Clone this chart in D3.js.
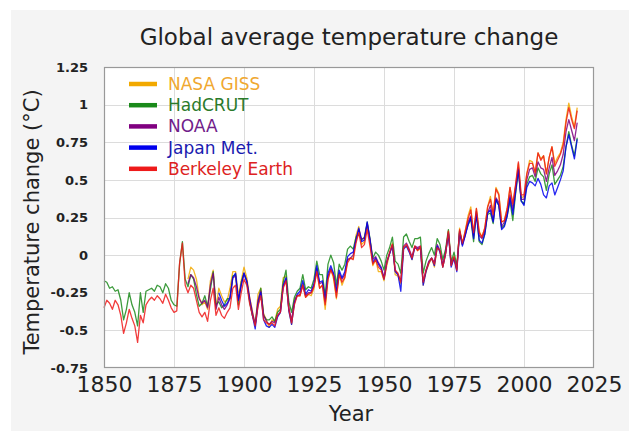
<!DOCTYPE html>
<html>
<head>
<meta charset="utf-8">
<script src="https://cdn.jsdelivr.net/npm/d3@7"></script>
<style>
  html, body { margin: 0; padding: 0; background: #ffffff; }
  svg { display: block; }
  text { font-family: "DejaVu Sans", sans-serif; }
</style>
</head>
<body>
<svg id="chart" width="629" height="431"></svg>
<script>
// Annual temperature anomalies (°C, relative to 1951–1980)
const seriesNames = ["NASA GISS", "HadCRUT", "NOAA", "Japan Met.", "Berkeley Earth"];
const seriesColors = ["#f2a900", "#1a8a1a", "#800080", "#0000ee", "#ee1a1a"];
const labelColors = ["#f0a830", "#2a7a2a", "#70208a", "#1a1ab0", "#dd2222"];
const startYears = [1880, 1850, 1880, 1891, 1850];

const nasaGiss = [
  -0.16,-0.08,-0.10,-0.16,-0.28,-0.33,-0.31,-0.36,-0.17,-0.10,
  -0.35,-0.22,-0.27,-0.31,-0.30,-0.22,-0.11,-0.11,-0.27,-0.17,
  -0.08,-0.15,-0.28,-0.37,-0.47,-0.26,-0.22,-0.39,-0.43,-0.48,
  -0.43,-0.44,-0.36,-0.34,-0.15,-0.14,-0.36,-0.46,-0.29,-0.27,
  -0.27,-0.19,-0.28,-0.26,-0.27,-0.22,-0.10,-0.22,-0.20,-0.36,
  -0.16,-0.09,-0.16,-0.29,-0.12,-0.20,-0.15,-0.03,-0.02,-0.02,
   0.13, 0.19, 0.07, 0.09, 0.20, 0.09,-0.07,-0.03,-0.11,-0.11,
  -0.17,-0.07, 0.01, 0.08,-0.13,-0.14,-0.19, 0.05, 0.06, 0.03,
  -0.03, 0.06, 0.03, 0.05,-0.20,-0.11,-0.06,-0.02,-0.08, 0.05,
   0.03,-0.08, 0.01, 0.16,-0.07,-0.01,-0.10, 0.18, 0.07, 0.16,
   0.26, 0.32, 0.14, 0.31, 0.16, 0.12, 0.18, 0.32, 0.39, 0.27,
   0.45, 0.41, 0.22, 0.23, 0.31, 0.45, 0.33, 0.46, 0.61, 0.38,
   0.39, 0.54, 0.63, 0.62, 0.54, 0.68, 0.64, 0.66, 0.54, 0.65,
   0.72, 0.61, 0.65, 0.68, 0.75, 0.90, 1.01, 0.92, 0.85, 0.98
];

const hadCrut = [
  -0.17,-0.18,-0.22,-0.21,-0.24,-0.23,-0.30,-0.43,-0.36,-0.25,
  -0.33,-0.38,-0.47,-0.25,-0.38,-0.24,-0.23,-0.22,-0.24,-0.20,
  -0.21,-0.25,-0.19,-0.22,-0.30,-0.33,-0.34,-0.06, 0.09,-0.16,
  -0.21,-0.13,-0.16,-0.26,-0.34,-0.32,-0.27,-0.34,-0.23,-0.11,
  -0.33,-0.31,-0.35,-0.33,-0.29,-0.29,-0.14,-0.13,-0.33,-0.18,
  -0.12,-0.17,-0.31,-0.40,-0.46,-0.32,-0.22,-0.40,-0.43,-0.43,
  -0.41,-0.44,-0.38,-0.36,-0.18,-0.10,-0.31,-0.38,-0.28,-0.24,
  -0.22,-0.13,-0.23,-0.21,-0.22,-0.16,-0.04,-0.13,-0.13,-0.27,
  -0.06, 0.00,-0.05,-0.20,-0.06,-0.10,-0.06, 0.04, 0.06, 0.04,
   0.12, 0.14, 0.10, 0.12, 0.22, 0.11,-0.02, 0.02, 0.00,-0.04,
  -0.10, 0.00, 0.05, 0.12,-0.04,-0.06,-0.12, 0.12, 0.14, 0.09,
   0.05, 0.11, 0.11, 0.12,-0.12,-0.04, 0.01, 0.05, 0.00, 0.11,
   0.07,-0.03, 0.04, 0.17,-0.05, 0.02,-0.07, 0.16, 0.08, 0.14,
   0.20, 0.24, 0.09, 0.28, 0.09, 0.07, 0.14, 0.27, 0.28, 0.21,
   0.37, 0.33, 0.18, 0.20, 0.26, 0.36, 0.23, 0.41, 0.56, 0.36,
   0.34, 0.47, 0.52, 0.53, 0.49, 0.58, 0.54, 0.52, 0.43, 0.54,
   0.60, 0.47, 0.50, 0.53, 0.59, 0.72, 0.82, 0.73, 0.66, 0.78
];

const noaa = [
  -0.19,-0.13,-0.15,-0.21,-0.29,-0.32,-0.30,-0.35,-0.20,-0.12,
  -0.36,-0.28,-0.33,-0.36,-0.33,-0.29,-0.15,-0.14,-0.30,-0.20,
  -0.12,-0.17,-0.28,-0.38,-0.46,-0.30,-0.24,-0.40,-0.44,-0.46,
  -0.44,-0.45,-0.40,-0.38,-0.21,-0.16,-0.35,-0.43,-0.31,-0.27,
  -0.26,-0.20,-0.27,-0.25,-0.25,-0.20,-0.09,-0.19,-0.18,-0.31,
  -0.14,-0.09,-0.13,-0.25,-0.12,-0.16,-0.13,-0.03,-0.02, 0.00,
   0.10, 0.17, 0.11, 0.11, 0.21, 0.10,-0.03,-0.01,-0.05,-0.08,
  -0.15,-0.04, 0.01, 0.07,-0.10,-0.13,-0.17, 0.06, 0.08, 0.04,
  -0.01, 0.06, 0.05, 0.06,-0.18,-0.10,-0.04,-0.02,-0.05, 0.07,
   0.03,-0.07, 0.02, 0.15,-0.06,-0.02,-0.09, 0.16, 0.07, 0.13,
   0.22, 0.26, 0.13, 0.29, 0.13, 0.11, 0.16, 0.28, 0.33, 0.23,
   0.38, 0.35, 0.19, 0.22, 0.28, 0.40, 0.30, 0.45, 0.58, 0.37,
   0.37, 0.50, 0.57, 0.58, 0.52, 0.62, 0.58, 0.57, 0.49, 0.58,
   0.65, 0.53, 0.56, 0.60, 0.67, 0.82, 0.90, 0.83, 0.76, 0.88
];

const japanMet = [
                    -0.25,-0.30,-0.34,-0.32,-0.28,-0.15,-0.12,-0.30,-0.20,
  -0.12,-0.18,-0.30,-0.40,-0.49,-0.33,-0.25,-0.43,-0.47,-0.48,
  -0.46,-0.48,-0.41,-0.38,-0.20,-0.15,-0.37,-0.46,-0.32,-0.26,
  -0.24,-0.17,-0.26,-0.23,-0.24,-0.19,-0.07,-0.18,-0.17,-0.30,
  -0.12,-0.07,-0.12,-0.24,-0.10,-0.15,-0.11,-0.01, 0.01, 0.02,
   0.10, 0.18, 0.09, 0.10, 0.22, 0.10,-0.05,-0.02,-0.06,-0.09,
  -0.16,-0.05, 0.01, 0.06,-0.11,-0.13,-0.24, 0.04, 0.06, 0.02,
  -0.03, 0.05, 0.04, 0.05,-0.20,-0.11,-0.05,-0.02,-0.07, 0.06,
   0.02,-0.08, 0.01, 0.14,-0.08,-0.02,-0.11, 0.15, 0.06, 0.13,
   0.20, 0.25, 0.11, 0.27, 0.10, 0.08, 0.14, 0.28, 0.30, 0.22,
   0.37, 0.33, 0.17, 0.19, 0.26, 0.38, 0.27, 0.42, 0.57, 0.36,
   0.33, 0.45, 0.49, 0.48, 0.46, 0.51, 0.47, 0.40, 0.38, 0.46,
   0.48, 0.40, 0.45, 0.50, 0.56, 0.72, 0.80, 0.72, 0.64, 0.77
];

const berkeley = [
  -0.35,-0.30,-0.32,-0.36,-0.30,-0.33,-0.40,-0.52,-0.45,-0.36,
  -0.42,-0.47,-0.58,-0.40,-0.45,-0.33,-0.30,-0.28,-0.30,-0.27,
  -0.29,-0.32,-0.26,-0.30,-0.35,-0.38,-0.37,-0.05, 0.08,-0.20,
  -0.25,-0.20,-0.22,-0.30,-0.38,-0.41,-0.38,-0.44,-0.30,-0.22,
  -0.40,-0.35,-0.40,-0.42,-0.38,-0.35,-0.22,-0.20,-0.36,-0.25,
  -0.16,-0.20,-0.32,-0.40,-0.47,-0.34,-0.27,-0.43,-0.45,-0.46,
  -0.45,-0.47,-0.40,-0.38,-0.22,-0.17,-0.36,-0.45,-0.33,-0.27,
  -0.27,-0.20,-0.28,-0.26,-0.25,-0.21,-0.11,-0.22,-0.20,-0.33,
  -0.16,-0.10,-0.14,-0.28,-0.13,-0.18,-0.15,-0.05,-0.02,-0.03,
   0.08, 0.15, 0.05, 0.07, 0.17, 0.06,-0.06,-0.03,-0.08,-0.10,
  -0.16,-0.05, 0.02, 0.07,-0.10,-0.12,-0.18, 0.05, 0.07, 0.03,
  -0.02, 0.06, 0.03, 0.06,-0.18,-0.10,-0.05,-0.02,-0.06, 0.05,
   0.03,-0.08, 0.01, 0.16,-0.07,-0.01,-0.10, 0.17, 0.08, 0.16,
   0.24, 0.30, 0.15, 0.31, 0.15, 0.12, 0.18, 0.32, 0.37, 0.27,
   0.44, 0.40, 0.22, 0.23, 0.31, 0.45, 0.34, 0.47, 0.62, 0.40,
   0.40, 0.54, 0.61, 0.61, 0.55, 0.68, 0.63, 0.66, 0.54, 0.65,
   0.72, 0.59, 0.63, 0.67, 0.73, 0.88, 0.98, 0.90, 0.84, 0.96
];

const xTicks = [1850, 1875, 1900, 1925, 1950, 1975, 2000, 2025];
const yTicks = [-0.75, -0.5, -0.25, 0, 0.25, 0.5, 0.75, 1, 1.25];

const seriesValues = [nasaGiss, hadCrut, noaa, japanMet, berkeley];
const series = seriesNames.map((name, i) => ({
  name,
  color: seriesColors[i],
  labelColor: labelColors[i],
  points: seriesValues[i].map((v, j) => ({ year: startYears[i] + j, value: v }))
}));

const svg = d3.select("#chart");
const W = 629, H = 431;
const plot = { left: 104, top: 67, right: 594, bottom: 368 };

// panel background
svg.append("rect").attr("x", 0).attr("y", 0).attr("width", W).attr("height", H).attr("fill", "#ffffff");
svg.append("rect").attr("x", 11).attr("y", 10).attr("width", W - 11).attr("height", H - 10).attr("fill", "#f4f4f4");

const x = d3.scaleLinear().domain([1850, 2025]).range([plot.left, plot.right]);
const y = d3.scaleLinear().domain([-0.75, 1.25]).range([plot.bottom, plot.top]);

svg.append("rect")
  .attr("x", plot.left).attr("y", plot.top)
  .attr("width", plot.right - plot.left).attr("height", plot.bottom - plot.top)
  .attr("fill", "#ffffff");

// grid
const grid = svg.append("g").attr("stroke", "#dcdcdc").attr("stroke-width", 1);
grid.selectAll("line.v").data(xTicks.slice(1, -1)).join("line")
  .attr("x1", d => x(d) + 0.5).attr("x2", d => x(d) + 0.5)
  .attr("y1", plot.top).attr("y2", plot.bottom);
grid.selectAll("line.h").data(yTicks.slice(1, -1)).join("line")
  .attr("y1", d => Math.round(y(d)) + 0.5).attr("y2", d => Math.round(y(d)) + 0.5)
  .attr("x1", plot.left).attr("x2", plot.right);

// data lines
const line = d3.line().x(d => x(d.year)).y(d => y(d.value));
svg.append("g").selectAll("path").data(series).join("path")
  .attr("d", d => line(d.points))
  .attr("fill", "none")
  .attr("stroke", d => d.color)
  .attr("stroke-width", 1.3)
  .attr("stroke-opacity", 0.85)
  .attr("stroke-linejoin", "round");

// frame
svg.append("rect")
  .attr("x", plot.left + 0.5).attr("y", plot.top + 0.5)
  .attr("width", plot.right - plot.left - 1).attr("height", plot.bottom - plot.top - 1)
  .attr("fill", "none").attr("stroke", "#999999").attr("stroke-width", 1.2);

// axes
const xAxis = d3.axisBottom(x).tickValues(xTicks).tickFormat(d3.format("d")).tickSize(0).tickPadding(8);
const gx = svg.append("g").attr("transform", `translate(0,${plot.bottom})`).call(xAxis);
gx.select(".domain").remove();
gx.selectAll("text").attr("font-size", 22).attr("fill", "#222").attr("font-family", "DejaVu Sans");

const yAxis = d3.axisLeft(y).tickValues(yTicks).tickFormat(d => String(d)).tickSize(0).tickPadding(16);
const gy = svg.append("g").attr("transform", `translate(${plot.left},0)`).call(yAxis);
gy.select(".domain").remove();
gy.selectAll("text").attr("font-size", 13).attr("font-weight", "bold").attr("fill", "#222").attr("font-family", "DejaVu Sans");

// titles
svg.append("text").attr("x", 349).attr("y", 45).attr("text-anchor", "middle")
  .attr("font-size", 23).attr("fill", "#222").text("Global average temperature change");
svg.append("text").attr("x", 351).attr("y", 421).attr("text-anchor", "middle")
  .attr("font-size", 21).attr("fill", "#222").text("Year");
svg.append("text").attr("transform", "translate(39,222) rotate(-90)").attr("text-anchor", "middle")
  .attr("font-size", 21).attr("fill", "#222").text("Temperature change (°C)");

// legend
const legend = svg.append("g").selectAll("g").data(series).join("g")
  .attr("transform", (d, i) => `translate(0,${84 + i * 21.2})`);
legend.append("line").attr("x1", 129).attr("x2", 157).attr("y1", 0).attr("y2", 0)
  .attr("stroke", d => d.color).attr("stroke-width", 4.5);
legend.append("text").attr("x", 168).attr("y", 6).attr("font-size", 17)
  .attr("fill", d => d.labelColor).text(d => d.name);
</script>
</body>
</html>
